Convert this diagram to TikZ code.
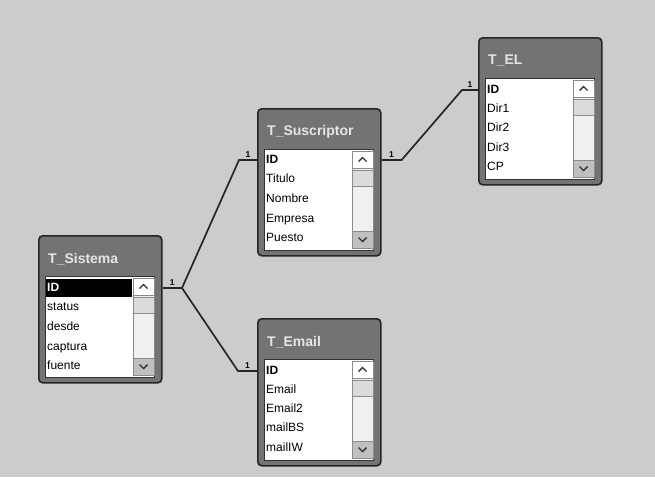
\documentclass[tikz,border=0pt]{standalone}
\usepackage{fontspec}
\setmainfont{Liberation Sans}
\usetikzlibrary{positioning}

\begin{document}
\begin{tikzpicture}[x=1pt, y=-1pt,
    win/.style   = {draw=black!85, line width=1.6pt, fill=black!55, rounded corners=4pt,
                    minimum width=123pt, minimum height=147pt, anchor=north west, inner sep=0pt},
    body/.style  = {draw=black!80, line width=0.8pt, fill=white,
                    minimum width=109pt, minimum height=101pt, anchor=north west, inner sep=0pt},
    ttl/.style   = {anchor=west, inner sep=0pt, text=black!10, font=\bfseries\fontsize{14}{16}\selectfont},
    fld/.style   = {anchor=west, inner sep=0pt, text height=9pt, text depth=3pt,
                    font=\fontsize{12}{14}\selectfont},
    key/.style   = {fld, font=\bfseries\fontsize{12}{14}\selectfont},
    sel/.style   = {key, fill=black, text=white, text width=84pt, inner xsep=1pt, inner ysep=3pt},
    bar/.style   = {draw=black!45, line width=0.6pt, fill=black!6},
    btn/.style   = {draw=black!45, line width=0.6pt, fill=white},
    chev/.style  = {draw=black!80, line width=1.4pt},
    rel/.style   = {draw=black!85, line width=1.7pt},
    one/.style   = {above, inner sep=1.5pt, font=\bfseries\fontsize{8.5}{9}\selectfont},
]

\useasboundingbox (0,0) rectangle (655,477);
\fill[black!20] (0,0) rectangle (655,477);

% --- table windows with their scroll bars ---
\foreach \n/\x/\y in {sis/38/235, sus/257/108, el/478/37, em/257/318} {
    \node[win]  (\n)   at (\x,\y)       {};
    \node[body] (\n-b) at (\x+7,\y+41)  {};
    \draw[bar] (\x+95,\y+43) rectangle (\x+116,\y+140);
    \draw[btn] (\x+95,\y+43) rectangle (\x+116,\y+60);
    \draw[bar, fill=black!14] (\x+95,\y+62) rectangle (\x+116,\y+78);
    \draw[bar, fill=black!25] (\x+95,\y+123) rectangle (\x+116,\y+140);
    \draw[chev] (\x+101.5,\y+53.5) -- (\x+105.5,\y+49.5) -- (\x+109.5,\y+53.5);
    \draw[chev] (\x+101.5,\y+129.5) -- (\x+105.5,\y+133.5) -- (\x+109.5,\y+129.5);
}

% --- titles ---
\node[ttl] (sis-t) at (48,259)  {T\_Sistema};
\node[ttl] (sus-t) at (267,132) {T\_Suscriptor};
\node[ttl] (el-t)  at (488,61)  {T\_EL};
\node[ttl] (em-t)  at (267,342) {T\_Email};

% --- fields ---
\node[sel] (sis-id) at (46,288) {ID};
\foreach \f [count=\i] in {status,desde,captura,fuente}
    \node[fld] (sis-\i) at (47,288+19.7*\i) {\f};

\node[key] (sus-id) at (266,160) {ID};
\foreach \f [count=\i] in {Titulo,Nombre,Empresa,Puesto}
    \node[fld] (sus-\i) at (266,160+19.7*\i) {\f};

\node[key] (el-id) at (487,90) {ID};
\foreach \f [count=\i] in {Dir1,Dir2,Dir3,CP}
    \node[fld] (el-\i) at (487,90+19.4*\i) {\f};

\node[key] (em-id) at (266,371) {ID};
\foreach \f [count=\i] in {Email,Email2,mailBS,mailIW}
    \node[fld] (em-\i) at (266,371+19.3*\i) {\f};

% --- relations ---
\coordinate (j1) at (182,288);
\draw[rel] (sis.east |- sis-id) -- node[one] {1} (j1);
\draw[rel] (j1) -- ([xshift=-18pt]sus.west |- sus-id) -- node[one] {1} (sus.west |- sus-id);
\draw[rel] (j1) -- ([xshift=-19pt]em.west |- em-id) -- node[one] {1} (em.west |- em-id);
\draw[rel] (sus.east |- sus-id) -- node[one] {1} ([xshift=20pt]sus.east |- sus-id)
    -- ([xshift=-16pt]el.west |- el-id) -- node[one] {1} (el.west |- el-id);

\end{tikzpicture}
\end{document}
